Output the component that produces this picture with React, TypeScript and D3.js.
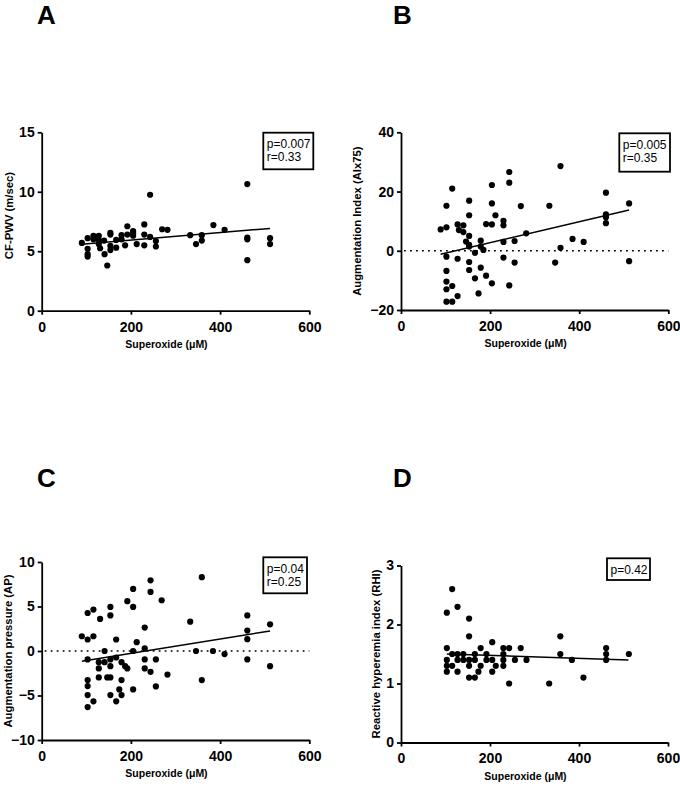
import React, { useRef, useEffect } from "react";
import * as d3 from "d3";

// Panel A: CF-PWV
const aX = [90, 103, 103, 103, 103, 116, 116, 128, 128, 128, 131, 140, 141, 147, 154, 154, 154, 154, 167, 167, 179, 179, 187, 192, 192, 205, 205, 205, 213, 230, 230, 230, 243, 243, 256, 256, 270, 282, 333, 346, 359, 359, 385, 410, 461, 461, 461, 461, 512, 512];
const aY = [5.7, 6.1, 5.2, 4.75, 4.55, 6.3, 6.0, 6.3, 5.95, 5.6, 5.25, 5.9, 4.75, 3.8, 6.55, 6.4, 5.45, 5.1, 5.95, 5.3, 6.35, 6.0, 5.5, 7.1, 6.4, 6.7, 6.5, 6.3, 5.6, 7.25, 6.4, 5.5, 9.75, 6.2, 5.85, 5.4, 6.85, 6.8, 6.35, 5.6, 6.35, 5.9, 7.2, 6.8, 10.65, 6.15, 6.0, 4.25, 6.1, 5.6];
const fitAX = [90, 512];
const fitAY = [5.58, 6.92];

// Panel B: AIx75
const bX = [89, 102, 102, 102, 102, 102, 102, 102, 115, 115, 115, 127, 130, 127, 127, 140, 140, 146, 153, 153, 153, 153, 153, 153, 153, 166, 166, 174, 179, 179, 179, 185, 191, 191, 204, 204, 204, 204, 212, 230, 230, 230, 230, 243, 243, 243, 255, 255, 269, 281, 333, 346, 358, 358, 385, 410, 460, 460, 460, 460, 512, 512];
const bY = [7.2, 15.2, 7.9, -2.0, -6.8, -10.4, -13.0, -17.2, 21, -11.9, -17.2, 8.9, 7.0, -2.7, -15.3, 8.6, 6.3, 3.1, 16.9, 12.0, 5.0, 2.0, 1.4, -3.8, -6.5, -0.7, -9.3, -14.4, 3.4, 1.4, -5.7, 0.3, 9.0, -8.4, 22.2, 16.0, 8.9, -11.0, 12.0, 10.1, 8.6, 3.0, -2.3, 26.6, 23.0, -11.7, 3.3, -4.0, 15.1, 5.9, 15.2, -4.0, 28.6, 1.0, 4.0, 3.0, 19.6, 12.3, 11.3, 9.3, 16.0, -3.5];
const fitBX = [89, 512];
const fitBY = [-1.2, 13.8];

// Panel C: augmentation pressure
const cX = [90, 103, 103, 103, 103, 103, 103, 103, 116, 116, 116, 131, 128, 128, 128, 141, 141, 147, 154, 154, 154, 154, 154, 154, 167, 167, 167, 174, 179, 179, 179, 187, 192, 192, 205, 205, 205, 205, 213, 231, 231, 231, 231, 244, 244, 244, 256, 256, 269, 282, 333, 346, 359, 359, 384, 410, 461, 461, 461, 461, 512, 512];
const cY = [1.66, 4.27, 1.29, -0.95, -3.27, -3.94, -4.95, -6.3, 4.65, 1.66, -5.66, 3.6, -1.25, -1.96, -2.97, 0, -1.25, -2.97, 4.95, 4.0, -0.95, -1.7, -2.97, -4.95, 1.29, -0.73, -5.66, -4.32, -1.25, -3.27, -4.95, -1.7, -1.96, 5.6, 6.97, 4.95, 0, -4.32, 0.99, 2.63, 0.3, -0.95, -1.96, 7.94, 6.64, -2.34, -0.95, -3.98, 5.7, -2.65, 3.3, 0, 8.3, -3.27, 0, -0.35, 4.0, 2.3, 1.33, -0.95, 3.0, -1.7];
const fitCX = [90, 512];
const fitCY = [-1.14, 2.25];

// Panel D: RHI
const dX = [103, 103, 103, 103, 103, 115, 115, 115, 127, 127, 127, 127, 140, 140, 153, 153, 153, 153, 153, 166, 166, 166, 174, 179, 179, 192, 192, 205, 205, 205, 213, 230, 230, 230, 230, 243, 243, 256, 269, 282, 333, 358, 358, 384, 410, 461, 461, 461, 512];
const dY = [2.2, 1.6, 1.4, 1.3, 1.2, 2.6, 1.5, 1.3, 2.3, 1.5, 1.4, 1.2, 1.5, 1.4, 2.1, 1.8, 1.4, 1.3, 1.1, 1.5, 1.4, 1.1, 1.2, 1.6, 1.3, 1.5, 1.4, 1.7, 1.4, 1.2, 1.3, 1.6, 1.5, 1.4, 1.3, 1.6, 1.0, 1.4, 1.6, 1.4, 1.0, 1.8, 1.5, 1.4, 1.1, 1.6, 1.5, 1.4, 1.5];
const fitDX = [103, 511];
const fitDY = [1.5, 1.4];

const xTicks = [0, 200, 400, 600];
const xTitle = "Superoxide (\u03bcM)";

const FONT = "Arial, 'Liberation Sans', sans-serif";

const panels = [
  {
    letter: "A", lx: 37, ly: 24,
    left: 41.7, right: 309.3, top: 132.3, bottom: 310.7,
    yDomain: [0, 15], yTicks: [0, 5, 10, 15], zero: false,
    yTitle: "CF-PWV (m/sec)", yTitleX: 12.5, yTitleShift: -6,
    xs: aX, ys: aY, fx: fitAX, fy: fitAY,
    box: { x: 263.3, y: 132.7, w: 50, h: 36.6 }, stats: ["p=0.007", "r=0.33"],
  },
  {
    letter: "B", lx: 393, ly: 24,
    left: 401, right: 668.3, top: 132.3, bottom: 310,
    yDomain: [-20, 40], yTicks: [-20, 0, 20, 40], zero: true,
    yTitle: "Augmentation Index (AIx75)", yTitleX: 361, yTitleShift: 0,
    xs: bX, ys: bY, fx: fitBX, fy: fitBY,
    box: { x: 619.3, y: 133.3, w: 50.7, h: 38.4 }, stats: ["p=0.005", "r=0.35"],
  },
  {
    letter: "C", lx: 37, ly: 487.3,
    left: 41.7, right: 309.3, top: 562, bottom: 740,
    yDomain: [-10, 10], yTicks: [-10, -5, 0, 5, 10], zero: true,
    yTitle: "Augmentation pressure (AP)", yTitleX: 11.5, yTitleShift: 0,
    xs: cX, ys: cY, fx: fitCX, fy: fitCY,
    box: { x: 263.3, y: 557.3, w: 43.7, h: 36 }, stats: ["p=0.04", "r=0.25"],
  },
  {
    letter: "D", lx: 393, ly: 487.3,
    left: 401, right: 668, top: 565.5, bottom: 742.5,
    yDomain: [0, 3], yTicks: [0, 1, 2, 3], zero: false,
    yTitle: "Reactive hyperemia index (RHI)", yTitleX: 380, yTitleShift: 0,
    xs: dX, ys: dY, fx: fitDX, fy: fitDY,
    box: { x: 607, y: 558.3, w: 43, h: 21.7 }, stats: ["p=0.42"],
  },
];

const App = () => {
  const ref = useRef<SVGSVGElement>(null);

  useEffect(() => {
    const svg = d3.select(ref.current);
    svg.selectAll("*").remove();

    panels.forEach((p) => {
      const x = d3.scaleLinear().domain([0, 600]).range([p.left, p.right]);
      const y = d3.scaleLinear().domain(p.yDomain).range([p.bottom, p.top]);
      const g = svg.append("g");

      // panel letter
      g.append("text")
        .attr("x", p.lx)
        .attr("y", p.ly)
        .attr("font-family", FONT)
        .attr("font-weight", "bold")
        .attr("font-size", 26)
        .text(p.letter);

      // dotted zero line
      if (p.zero) {
        g.append("line")
          .attr("x1", x(0) + 3)
          .attr("x2", x(600))
          .attr("y1", y(0))
          .attr("y2", y(0))
          .attr("stroke", "#000")
          .attr("stroke-width", 1.6)
          .attr("stroke-dasharray", "1.8,4.2");
      }

      // axes
      const xAxis = g
        .append("g")
        .attr("transform", `translate(0,${p.bottom})`)
        .call(d3.axisBottom(x).tickValues(xTicks).tickSize(4).tickSizeOuter(0).tickPadding(7));
      const yAxis = g
        .append("g")
        .attr("transform", `translate(${p.left},0)`)
        .call(d3.axisLeft(y).tickValues(p.yTicks).tickSize(4).tickSizeOuter(0).tickPadding(3).tickFormat(d3.format("d")));

      [xAxis, yAxis].forEach((ax) => {
        ax.select(".domain").attr("stroke-width", 1.8);
        ax.selectAll(".tick line").attr("stroke-width", 1.8);
        ax.selectAll(".tick text")
          .attr("font-family", FONT)
          .attr("font-weight", "bold")
          .attr("font-size", 14)
          .attr("fill", "#000");
      });

      // axis titles
      g.append("text")
        .attr("x", (p.left + p.right) / 2 - 9)
        .attr("y", p.bottom + 37)
        .attr("text-anchor", "middle")
        .attr("font-family", FONT)
        .attr("font-weight", "bold")
        .attr("font-size", 10.5)
        .text(xTitle);

      g.append("text")
        .attr("transform", `translate(${p.yTitleX},${(p.top + p.bottom) / 2 + p.yTitleShift}) rotate(-90)`)
        .attr("text-anchor", "middle")
        .attr("font-family", FONT)
        .attr("font-weight", "bold")
        .attr("font-size", 11.3)
        .text(p.yTitle);

      // points
      g.append("g")
        .selectAll("circle")
        .data(p.xs.map((v, i) => [v, p.ys[i]]))
        .join("circle")
        .attr("cx", (d) => x(d[0]))
        .attr("cy", (d) => y(d[1]))
        .attr("r", 3.1)
        .attr("fill", "#000");

      // regression line
      const line = d3
        .line<number[]>()
        .x((d) => x(d[0]))
        .y((d) => y(d[1]));
      g.append("path")
        .datum(p.fx.map((v, i) => [v, p.fy[i]]))
        .attr("fill", "none")
        .attr("stroke", "#000")
        .attr("stroke-width", 1.5)
        .attr("d", line);

      // stats box
      g.append("rect")
        .attr("x", p.box.x)
        .attr("y", p.box.y)
        .attr("width", p.box.w)
        .attr("height", p.box.h)
        .attr("fill", "#fff")
        .attr("stroke", "#000")
        .attr("stroke-width", 1.8);
      p.stats.forEach((s, i) => {
        g.append("text")
          .attr("x", p.box.x + 3.5)
          .attr("y", p.box.y + 15.5 + i * 13)
          .attr("font-family", FONT)
          .attr("font-size", 12)
          .text(s);
      });
    });
  }, []);

  return (
    <svg
      ref={ref}
      width={680}
      height={787}
      style={{ position: "absolute", left: 0, top: 0, background: "#fff" }}
    />
  );
};

export default App;
